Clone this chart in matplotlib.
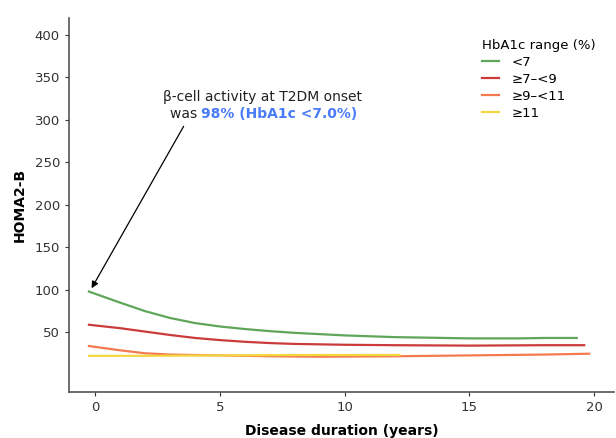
import matplotlib.pyplot as plt

plt.rcParams['font.family'] = ['DejaVu Sans']

# HOMA2-B by disease duration, one line per HbA1c group
years_lt7 = [-0.25, 1, 2, 3, 4, 5, 6, 7, 8, 9, 10, 11, 12, 13, 14, 15, 16, 17, 18, 19.3]
homa_lt7 = [98, 85, 75, 67, 61, 57, 54, 51.5, 49.5, 48, 46.5, 45.5, 44.5, 44, 43.5, 43, 43, 43, 43.5, 43.5]

years_7_9 = [-0.25, 1, 2, 3, 4, 5, 6, 7, 8, 10, 12, 15, 18, 19.6]
homa_7_9 = [59, 55, 51, 47, 43.5, 41, 39, 37.5, 36.5, 35.5, 35, 34.5, 35, 35]

years_9_11 = [-0.25, 1, 2, 3, 4, 5, 7, 9, 12, 15, 18, 19.8]
homa_9_11 = [34, 29, 25.5, 24, 23.5, 23, 22, 21.5, 22, 23, 24, 25]

years_ge11 = [-0.25, 2, 5, 8, 12.2]
homa_ge11 = [22.5, 22.5, 23, 23.5, 23.5]

labels = ['<7', '≥7–<9', '≥9–<11', '≥11']
colors = ['#5fa65a', '#cc3b3b', '#f27a4e', '#f3d640']

fig, ax = plt.subplots(figsize=(6.16, 4.38), dpi=100)
fig.subplots_adjust(left=0.112, right=0.997, top=0.96, bottom=0.105)

ax.plot(years_lt7, homa_lt7, color=colors[0], lw=1.6, label=labels[0])
ax.plot(years_7_9, homa_7_9, color=colors[1], lw=1.6, label=labels[1])
ax.plot(years_9_11, homa_9_11, color=colors[2], lw=1.6, label=labels[2])
ax.plot(years_ge11, homa_ge11, color=colors[3], lw=1.6, label=labels[3])

ax.set_xlim(-1.05, 20.8)
ax.set_ylim(-20, 420)
ax.set_xticks([0, 5, 10, 15, 20])
ax.set_yticks([50, 100, 150, 200, 250, 300, 350, 400])
ax.tick_params(labelsize=9.5, colors='#333333', length=3)
for s in ['top', 'right']:
    ax.spines[s].set_visible(False)
for s in ['left', 'bottom']:
    ax.spines[s].set_color('#555555')
    ax.spines[s].set_linewidth(1.2)

ax.set_xlabel('Disease duration (years)', fontsize=10, fontweight='bold', labelpad=7)
ax.set_ylabel('HOMA2-B', fontsize=10, fontweight='bold', labelpad=6)

ax.annotate('', xy=(-0.2, 99), xytext=(3.6, 295),
            arrowprops=dict(arrowstyle='-|>', color='black', lw=0.9, mutation_scale=10))
ax.text(6.7, 327, 'β-cell activity at T2DM onset', ha='center', va='center',
        fontsize=10, color='#222222')
ax.text(4.25, 307, 'was ', ha='right', va='center', fontsize=10, color='#222222')
ax.text(4.25, 307, '98% (HbA1c <7.0%)', ha='left', va='center', fontsize=10,
        color='#4a7bf7', fontweight='bold')

leg = ax.legend(title='HbA1c range (%)', loc='upper left', bbox_to_anchor=(0.735, 0.975),
                frameon=False, fontsize=9.5, title_fontsize=9.5, handlelength=1.3,
                labelspacing=0.3, handletextpad=1.0)
leg._legend_box.align = 'left'

fig.savefig('out.png', dpi=100)
